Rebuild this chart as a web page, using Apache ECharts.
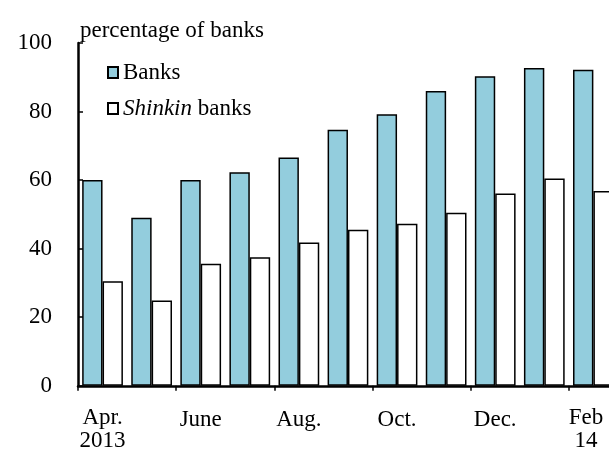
<!DOCTYPE html>
<html>
<head>
<meta charset="utf-8">
<script src="https://cdn.jsdelivr.net/npm/echarts@6/dist/echarts.min.js"></script>
<style>
html,body{margin:0;padding:0;overflow:hidden;background:#fff;width:609px;height:452px;}
#c{width:621px;height:452px;}
</style>
</head>
<body>
<div id="c"></div>
<script>
const categories = ['Apr.\n2013','May','June','July','Aug.','Sep.','Oct.','Nov.','Dec.','Jan.','Feb\n14'];
const shownLabels = [0,2,4,6,8,10];
const banks = [60, 49, 60, 62.3, 66.6, 74.7, 79.2, 86, 90.3, 92.7, 92.2];
const shinkin = [30.5, 24.9, 35.6, 37.5, 41.8, 45.5, 47.3, 50.5, 56.1, 60.5, 56.8];
const yTicks = [0, 20, 40, 60, 80, 100];

const FONT = '"Liberation Serif","Times New Roman",serif';
const FS = 23;
const chart = echarts.init(document.getElementById('c'), null, {renderer:'canvas'});
chart.setOption({
  animation: false,
  title: {
    text: 'percentage of banks',
    left: 75, top: 14,
    textStyle: {fontFamily: FONT, fontSize: FS, fontWeight: 'normal', color: '#000'}
  },
  legend: {
    orient: 'vertical',
    left: 102, top: 56,
    itemWidth: 10, itemHeight: 11, itemGap: 13,
    icon: 'rect',
    data: ['Banks', 'Shinkin banks'],
    formatter: function(n){ return n === 'Shinkin banks' ? '{i|Shinkin} banks' : n; },
    textStyle: {fontFamily: FONT, fontSize: FS, color: '#000',
      rich: {i: {fontFamily: FONT, fontSize: FS, fontStyle: 'italic', color: '#000'}}}
  },
  grid: {left: 78, right: 0, top: 43, bottom: 63, containLabel: false},
  xAxis: {
    type: 'category',
    data: categories,
    boundaryGap: true,
    axisLine: {lineStyle: {color: '#000', width: 2.5}},
    axisTick: {show: true, interval: 1, length: 5, lineStyle: {color: '#000', width: 1.5}},
    axisLabel: {
      interval: 0,
      margin: 21,
      fontFamily: FONT, fontSize: FS, color: '#000', lineHeight: 22.5,
      formatter: function(v, i){
        if (shownLabels.indexOf(i) < 0) return '';
        if (i === categories.length - 1) return '{f|' + v.split('\n').join('}\n{f|') + '}';
        if (v.indexOf('\n') < 0) return '{s|' + v + '}';
        return v;
      },
      rich: {
        s: {fontFamily: FONT, fontSize: FS, color: '#000', lineHeight: 22.5, padding: [3,0,0,0]},
        f: {fontFamily: FONT, fontSize: FS, color: '#000', lineHeight: 22.5, padding: [0,15,0,0]}
      }
    }
  },
  yAxis: {
    type: 'value',
    min: 0, max: 100, interval: 20,
    splitLine: {show: false},
    axisLine: {show: true, lineStyle: {color: '#000', width: 2.5}},
    axisTick: {show: true, inside: true, length: 5, lineStyle: {color: '#000', width: 1.5}},
    axisLabel: {
      margin: 26,
      padding: [4,0,0,0],
      fontFamily: FONT, fontSize: FS, color: '#000',
      formatter: function(v){ return yTicks.indexOf(v) >= 0 ? String(v) : ''; }
    }
  },
  series: [
    {
      name: 'Banks', type: 'bar', data: banks,
      barGap: '0%', barCategoryGap: '17%',
      itemStyle: {color: '#93CDDD', borderColor: '#000', borderWidth: 1.5}
    },
    {
      name: 'Shinkin banks', type: 'bar', data: shinkin,
      barGap: '0%', barCategoryGap: '17%',
      itemStyle: {color: '#FFFFFF', borderColor: '#000', borderWidth: 1.5}
    }
  ]
});
</script>
</body>
</html>
